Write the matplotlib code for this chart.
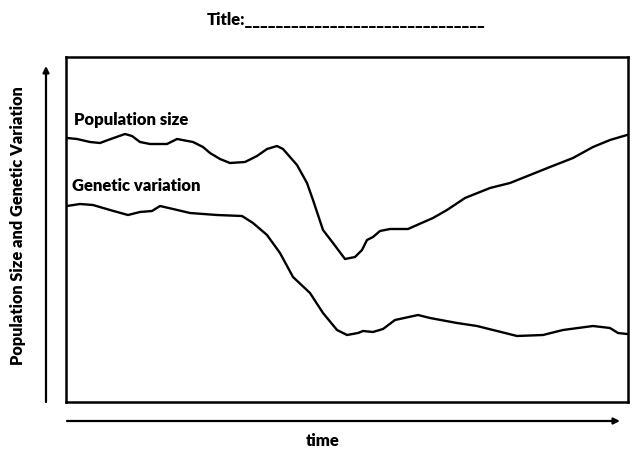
import matplotlib
matplotlib.use("Agg")
import matplotlib.pyplot as plt

# readings: time vs level (arbitrary units)
pop_time = [1, 11, 24, 34, 42, 59, 66, 74, 84, 101, 111, 127, 137, 144, 154, 164, 179, 191,
            201, 211, 217, 231, 241, 247, 257, 267, 279, 289, 296, 301, 307, 314, 324, 342,
            351, 367, 381, 399, 424, 444, 464, 484, 507, 527, 544, 561]
pop_size = [264, 263, 260, 259, 262, 268, 266, 260, 258, 258, 263, 260, 255, 249, 243, 239, 240, 246,
            253, 256, 253, 237, 219, 202, 172, 159, 143, 145, 152, 162, 165, 171, 173, 173,
            177, 184, 192, 204, 214, 219, 227, 235, 244, 255, 262, 267]

gen_time = [1, 14, 27, 44, 62, 74, 86, 94, 107, 124, 151, 176, 187, 201, 214, 227, 244, 257,
            271, 281, 292, 297, 307, 317, 329, 352, 364, 391, 411, 427, 451, 477, 497, 527,
            544, 552, 561]
gen_var = [196, 198, 197, 192, 187, 190, 191, 196, 193, 189, 187, 186, 179, 167, 149, 125, 109, 89,
           72, 67, 69, 71, 70, 73, 82, 87, 84, 79, 76, 72, 66, 67, 72, 76,
           74, 69, 68]

series_labels = ["Population size", "Genetic variation"]
title_text = "Title:" + "_" * 31
y_label = "Population Size and Genetic Variation"
x_label = "time"

plt.rcParams["font.family"] = ["Lato", "DejaVu Sans"]

fig = plt.figure(figsize=(6.43, 4.55), dpi=100)
ax = fig.add_axes([66 / 643, 53 / 455, 562 / 643, 345 / 455])

ax.plot(pop_time, pop_size, color="black", lw=1.7, solid_capstyle="round", solid_joinstyle="round")
ax.plot(gen_time, gen_var, color="black", lw=1.7, solid_capstyle="round", solid_joinstyle="round")
ax.set_xlim(0, 562)
ax.set_ylim(0, 345)
ax.set_xticks([])
ax.set_yticks([])
for s in ax.spines.values():
    s.set_linewidth(1.8)

ax.text(8, 282, series_labels[0], fontsize=12, fontweight="heavy", va="center")
ax.text(6, 216, series_labels[1], fontsize=12, fontweight="heavy", va="center")

fig.text(346 / 643, 1 - 20 / 455, title_text, fontsize=12, fontweight="heavy",
         ha="center", va="center")
fig.text(18 / 643, 1 - 226 / 455, y_label, fontsize=11.8, fontweight="heavy",
         rotation=90, ha="center", va="center")
fig.text(323 / 643, 1 - 441 / 455, x_label, fontsize=12, fontweight="heavy",
         ha="center", va="center")

# axis arrows outside the box
arrow = dict(arrowstyle="-|>", lw=1.6, color="black", mutation_scale=9, shrinkA=0, shrinkB=0)
ax.annotate("", xy=(46, 389), xytext=(46, 53), xycoords="figure pixels",
            textcoords="figure pixels", arrowprops=arrow)
ax.annotate("", xy=(620, 34), xytext=(67, 34), xycoords="figure pixels",
            textcoords="figure pixels", arrowprops=arrow)

fig.savefig("out.png", dpi=100)
